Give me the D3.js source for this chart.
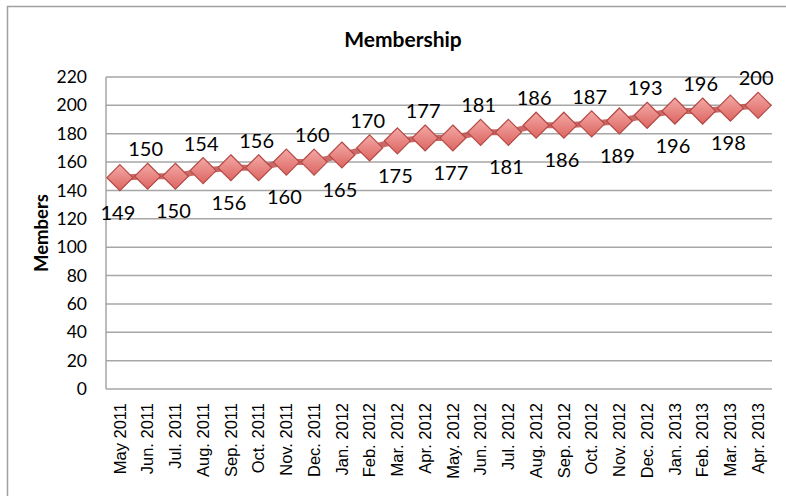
<!DOCTYPE html>
<html>
<head>
<meta charset="utf-8">
<script src="https://cdn.jsdelivr.net/npm/d3@7"></script>
<style>
  body { margin: 0; background: #fff; }
  svg { display: block; }
</style>
</head>
<body>
<div id="chart"></div>
<script>
// Chart data
const months = ["May 2011", "Jun. 2011", "Jul. 2011", "Aug. 2011", "Sep. 2011", "Oct. 2011",
  "Nov. 2011", "Dec. 2011", "Jan. 2012", "Feb. 2012", "Mar. 2012", "Apr. 2012",
  "May. 2012", "Jun. 2012", "Jul. 2012", "Aug. 2012", "Sep. 2012", "Oct. 2012",
  "Nov. 2012", "Dec. 2012", "Jan. 2013", "Feb. 2013", "Mar. 2013", "Apr. 2013"];
const members = [149, 150, 150, 154, 156, 156, 160, 160, 165, 170, 175, 177,
  177, 181, 181, 186, 186, 187, 189, 193, 196, 196, 198, 200];
const yTicks = [0, 20, 40, 60, 80, 100, 120, 140, 160, 180, 200, 220];

const width = 786, height = 496;
const plot = { left: 106, top: 77, right: 772, bottom: 389 };
const font = "Lato, 'Open Sans', sans-serif";
const tickFont = "'Liberation Sans', Arial, sans-serif";

const svg = d3.select("#chart").append("svg")
  .attr("width", width)
  .attr("height", height);

// gradient for the diamond markers
const defs = svg.append("defs");
const grad = defs.append("linearGradient")
  .attr("id", "markerFill")
  .attr("x1", 0).attr("y1", 0).attr("x2", 0).attr("y2", 1);
grad.append("stop").attr("offset", "0%").attr("stop-color", "#f4a9a6");
grad.append("stop").attr("offset", "100%").attr("stop-color", "#dc6561");

// outer chart frame (runs past the window on the right and bottom)
svg.append("rect")
  .attr("x", 7.5).attr("y", 6.5)
  .attr("width", 820).attr("height", 520)
  .style("fill", "none")
  .style("stroke", "#a0a0a0")
  .style("stroke-width", "1.5px");

const x = d3.scaleBand()
  .domain(months)
  .range([plot.left, plot.right]);

const y = d3.scaleLinear()
  .domain([0, 220])
  .range([plot.bottom, plot.top]);

// Gridlines
svg.append("g")
  .selectAll("line")
  .data(yTicks)
  .enter()
  .append("line")
  .attr("x1", plot.left)
  .attr("x2", plot.right)
  .attr("y1", d => y(d))
  .attr("y2", d => y(d))
  .style("stroke", "#a6a6a6")
  .style("stroke-width", "1.5px");

// Left axis line
svg.append("line")
  .attr("x1", plot.left).attr("x2", plot.left)
  .attr("y1", y(220)).attr("y2", y(0))
  .style("stroke", "#a6a6a6")
  .style("stroke-width", "1.5px");

// Y axis
const yAxis = svg.append("g")
  .attr("transform", `translate(${plot.left - 19},0)`)
  .call(d3.axisLeft(y).tickValues(yTicks).tickSize(0).tickPadding(0));
yAxis.select(".domain").remove();
yAxis.selectAll("text")
  .style("font-family", font)
  .style("font-size", "17.5px")
  .style("fill", "#000");

// X axis, rotated labels
const xAxis = svg.append("g")
  .attr("transform", `translate(0,${plot.bottom})`)
  .call(d3.axisBottom(x).tickSize(0).tickPadding(0));
xAxis.select(".domain").remove();
xAxis.selectAll("text")
  .attr("transform", "rotate(-90)")
  .attr("x", -14)
  .attr("y", 0)
  .attr("dy", "0.35em")
  .style("text-anchor", "end")
  .style("font-family", tickFont)
  .style("font-size", "16.5px")
  .style("fill", "#000");

// Title
svg.append("text")
  .attr("x", 403)
  .attr("y", 47)
  .style("text-anchor", "middle")
  .style("font-family", font)
  .style("font-weight", "bold")
  .style("font-size", "21px")
  .text("Membership");

// Y axis title
svg.append("text")
  .attr("transform", "translate(48,233) rotate(-90)")
  .style("text-anchor", "middle")
  .style("font-family", font)
  .style("font-weight", "bold")
  .style("font-size", "18.5px")
  .text("Members");

const cx = d => x(d) + x.bandwidth() / 2;

// Series line
const line = d3.line()
  .x((d, i) => cx(months[i]))
  .y(d => y(d));

svg.append("path")
  .datum(members)
  .attr("d", line)
  .style("fill", "none")
  .style("stroke", "#c0504d")
  .style("stroke-opacity", 0.85)
  .style("stroke-width", "6px");

// Diamond markers
const r = 13;
svg.append("g")
  .selectAll("path")
  .data(members)
  .enter()
  .append("path")
  .attr("d", (d, i) => {
    const px = cx(months[i]), py = y(d);
    return `M${px},${py - r}L${px + r},${py}L${px},${py + r}L${px - r},${py}Z`;
  })
  .style("fill", "url(#markerFill)")
  .style("stroke", "#b44945")
  .style("stroke-width", "1.2px");

// Data labels: even index below, odd index above
svg.append("g")
  .selectAll("text")
  .data(members)
  .enter()
  .append("text")
  .attr("x", (d, i) => cx(months[i]) - 2)
  .attr("y", (d, i) => i % 2 ? y(d) - 20 : y(d) + 42)
  .style("text-anchor", "middle")
  .style("font-family", font)
  .style("font-size", "20px")
  .text(d => d);
</script>
</body>
</html>
